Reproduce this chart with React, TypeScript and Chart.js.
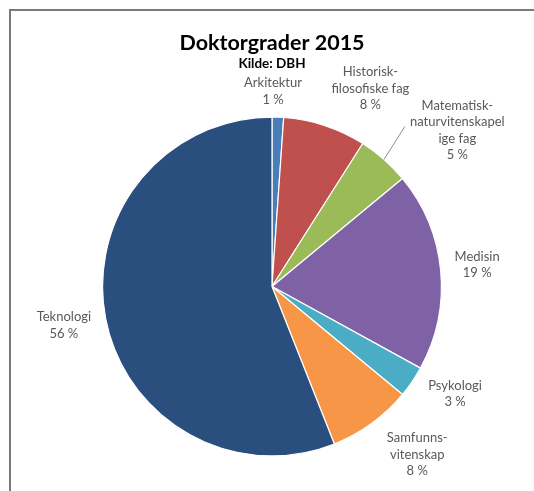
import React, { useEffect, useRef } from "react";
import { Chart, registerables } from "chart.js";

Chart.register(...registerables);

const TITLE = "Doktorgrader 2015";
const SUBTITLE = "Kilde: DBH";
const categories = [
  ["Arkitektur"],
  ["Historisk-", "filosofiske fag"],
  ["Matematisk-", "naturvitenskapel", "ige fag"],
  ["Medisin"],
  ["Psykologi"],
  ["Samfunns-", "vitenskap"],
  ["Teknologi"],
];
const values = [1.1, 7.9, 5.0, 19.0, 3.0, 8.0, 56.0];
const valueLabels = ["1 %", "8 %", "5 %", "19 %", "3 %", "8 %", "56 %"];
const colors = ["#4a7ebb", "#c0504d", "#9bbb59", "#7f62a6", "#4bacc6", "#f79646", "#2a4e7e"];

// label placement: [angle from 12 o'clock (deg), distance as multiple of radius]
const labelLayout: [number, number][] = [
  [0.3, 1.153],
  [26.4, 1.306],
  [49.9, 1.43],
  [83.9, 1.218],
  [120.4, 1.253],
  [139.2, 1.312],
  [259.4, 1.25],
];
const leaderLine = [false, false, true, false, false, false, false];

const FONT = "Lato, 'Open Sans', sans-serif";

const labelPlugin = {
  id: "labels",
  afterDatasetsDraw(chart: any) {
    const ctx = chart.ctx;
    const meta = chart.getDatasetMeta(0);
    const lh = 16.5;
    ctx.save();
    meta.data.forEach((arc: any, i: number) => {
      const { x, y, outerRadius, startAngle, endAngle } = arc.getProps(
        ["x", "y", "outerRadius", "startAngle", "endAngle"],
        true
      );
      const [deg, f] = labelLayout[i];
      const a = (deg * Math.PI) / 180;
      const cx = x + outerRadius * f * Math.sin(a);
      const cy = y - outerRadius * f * Math.cos(a);
      const lines = [...categories[i], valueLabels[i]];
      ctx.font = `13px ${FONT}`;
      ctx.fillStyle = "#595959";
      ctx.textAlign = "center";
      ctx.textBaseline = "middle";
      const top = cy - ((lines.length - 1) * lh) / 2;
      let maxW = 0;
      lines.forEach((t, k) => {
        ctx.fillText(t, cx, top + k * lh);
        maxW = Math.max(maxW, ctx.measureText(t).width);
      });
      if (leaderLine[i]) {
        const mid = (startAngle + endAngle) / 2;
        const sx = x + outerRadius * Math.cos(mid);
        const sy = y + outerRadius * Math.sin(mid);
        ctx.strokeStyle = "#8c8c8c";
        ctx.lineWidth = 1;
        ctx.beginPath();
        ctx.moveTo(sx, sy);
        ctx.lineTo(cx - maxW / 2 - 5, cy - 4);
        ctx.stroke();
      }
    });
    // title
    ctx.fillStyle = "#000000";
    ctx.textAlign = "center";
    ctx.textBaseline = "middle";
    ctx.font = `bold 21.5px ${FONT}`;
    ctx.fillText(TITLE, 272, 43);
    ctx.font = `bold 13.5px ${FONT}`;
    ctx.fillText(SUBTITLE, 272, 64);
    ctx.restore();
  },
};

export default function App() {
  const ref = useRef<HTMLCanvasElement>(null);
  useEffect(() => {
    if (!ref.current) return;
    const chart = new Chart(ref.current, {
      type: "pie",
      data: {
        labels: categories.map((c) => c.join("")),
        datasets: [
          {
            data: values,
            backgroundColor: colors,
            borderColor: "#ffffff",
            borderWidth: 1.2,
          },
        ],
      },
      options: {
        animation: false,
        responsive: false,
        maintainAspectRatio: false,
        layout: { padding: { top: 116, bottom: 34, left: 102, right: 92 } },
        plugins: {
          legend: { display: false },
          title: { display: false },
          tooltip: { enabled: false },
        },
      },
      plugins: [labelPlugin],
    });
    return () => chart.destroy();
  }, []);
  return (
    <div
      style={{
        position: "fixed",
        left: 0,
        top: 0,
        width: 534,
        height: 491,
        background: "#ffffff",
        overflow: "hidden",
      }}
    >
      <div
        style={{
          position: "absolute",
          left: 9,
          top: 9,
          width: 600,
          height: 600,
          border: "2px solid #7a7a7a",
          boxSizing: "border-box",
        }}
      />
      <canvas
        ref={ref}
        width={534}
        height={491}
        style={{ position: "absolute", left: 0, top: 0, width: 534, height: 491 }}
      />
    </div>
  );
}
